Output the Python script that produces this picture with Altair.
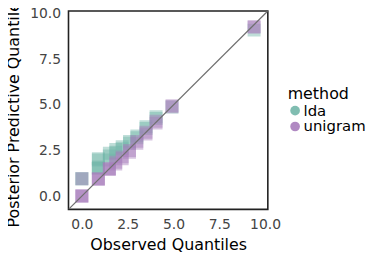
import altair as alt
import pandas as pd

# observed vs posterior predictive quantiles (several draws per quantile)
lda_x = [0.0, 0.0, 0.9, 0.9, 0.9, 0.9, 0.9, 1.5, 1.5, 1.5, 1.85, 1.85, 2.2, 2.2, 2.6, 2.6, 3.0, 3.0, 3.5, 3.5, 4.05, 4.05, 4.92, 9.4]
lda_y = [0.95, 0.95, 1.53, 1.53, 1.6, 1.98, 2.05, 1.98, 2.35, 2.2, 2.4, 2.55, 2.7, 2.6, 3.0, 2.9, 3.3, 3.2, 3.8, 3.7, 4.25, 4.35, 4.88, 9.1]
uni_x = [0.0, 0.0, 0.0, 0.0, 0.9, 0.9, 0.9, 1.5, 1.5, 1.5, 1.85, 1.85, 2.2, 2.2, 2.6, 2.6, 3.0, 3.0, 3.5, 3.5, 4.05, 4.05, 4.92, 4.92, 9.4, 9.4]
uni_y = [0.0, 0.0, 0.0, 0.95, 0.93, 0.93, 0.93, 1.5, 1.5, 1.45, 1.85, 1.75, 2.15, 2.05, 2.5, 2.4, 3.0, 2.9, 3.5, 3.4, 4.0, 4.1, 4.9, 4.95, 9.25, 9.3]
methods = ["lda", "unigram"]
colors = ["#72b6a8", "#a77cbb"]
axis_domain = [-0.73, 10.15]
tick_vals = [0, 2.5, 5, 7.5, 10]

df = pd.concat([
    pd.DataFrame({"x": lda_x, "y": lda_y, "method": "lda"}),
    pd.DataFrame({"x": uni_x, "y": uni_y, "method": "unigram"}),
])
diag = pd.DataFrame({"x": axis_domain, "y": axis_domain})

xs = alt.Scale(domain=axis_domain, nice=False, zero=False)
ys = alt.Scale(domain=axis_domain, nice=False, zero=False)

line = alt.Chart(diag).mark_line(color="#707070", strokeWidth=1.3, clip=True).encode(
    x=alt.X("x:Q", scale=xs), y=alt.Y("y:Q", scale=ys)
)

pts = alt.Chart(df).mark_point(shape="square", filled=True, size=170, opacity=0.45, clip=True).encode(
    x=alt.X("x:Q", scale=xs, title="Observed Quantiles",
            axis=alt.Axis(values=tick_vals, format=".1f", titlePadding=5)),
    y=alt.Y("y:Q", scale=ys, title="Posterior Predictive Quantiles",
            axis=alt.Axis(values=tick_vals, format=".1f", titlePadding=8)),
    color=alt.Color("method:N", scale=alt.Scale(domain=methods, range=colors),
                    legend=alt.Legend(title="method", orient="none", legendX=221, legendY=76,
                                      symbolType="circle", symbolSize=95, symbolOpacity=0.9,
                                      titleFontSize=16, labelFontSize=15, titleFontWeight="normal",
                                      rowPadding=-1, titlePadding=1, labelOffset=1)),
)

chart = alt.layer(pts, line).properties(
    width=201, height=200,
    autosize=alt.AutoSizeParams(type="none"),
    padding={"left": 61, "top": 2, "right": 100, "bottom": 44},
).configure(font="DejaVu Sans").configure_view(
    stroke="#222222", strokeWidth=1.6
).configure_axis(
    grid=False, domain=False, ticks=False, labelFontSize=14, titleFontSize=16,
    labelColor="#444444", titleColor="#000000", titleFontWeight="normal",
    labelPadding=8
)

chart.save("out.html", embed_options={"renderer": "svg", "actions": False})
